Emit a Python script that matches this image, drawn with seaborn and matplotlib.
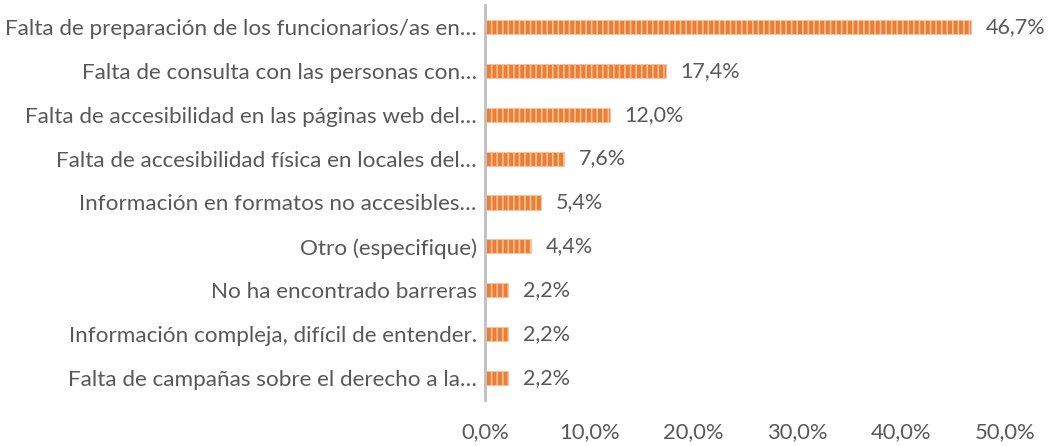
import pandas as pd
import seaborn as sns
import matplotlib.pyplot as plt
from matplotlib.ticker import FuncFormatter

# Data
categories = [
    "Falta de preparación de los funcionarios/as en…",
    "Falta de consulta con las personas con…",
    "Falta de accesibilidad en las páginas web del…",
    "Falta de accesibilidad física en locales del…",
    "Información en formatos no accesibles…",
    "Otro (especifique)",
    "No ha encontrado barreras",
    "Información compleja, difícil de entender.",
    "Falta de campañas sobre el derecho a la…",
]
values = [46.7, 17.4, 12.0, 7.6, 5.4, 4.4, 2.2, 2.2, 2.2]
xticks = [0, 10, 20, 30, 40, 50]

df = pd.DataFrame({"categoria": categories, "valor": values})

sns.set_style("white")
plt.rcParams["font.family"] = ["Lato", "DejaVu Sans"]
plt.rcParams["hatch.linewidth"] = 1.2

text_color = "#595959"
bar_color = "#ED7D31"

fig = plt.figure(figsize=(10.57, 4.46), dpi=100)
ax = fig.add_axes([0.459, 0.103, 0.492, 0.886])

sns.barplot(data=df, x="valor", y="categoria", orient="h",
            color=bar_color, width=0.32, saturation=1, ax=ax)

# Vertical stripes on the bars
for patch in ax.patches:
    patch.set_hatch("|||")
    patch.set_edgecolor("#F8C3A0")
    patch.set_linewidth(0.6)

# Value labels
for i, v in enumerate(values):
    ax.text(v + 1.4, i, f"{v:.1f}%".replace(".", ","), va="center", ha="left",
            fontsize=15.5, color=text_color)

ax.set_xlim(0, 50)
ax.set_xticks(xticks)
ax.xaxis.set_major_formatter(FuncFormatter(lambda x, _: f"{x:.1f}%".replace(".", ",")))
ax.set_xlabel("")
ax.set_ylabel("")
ax.tick_params(axis="both", length=0, labelcolor=text_color)
ax.tick_params(axis="x", labelsize=15.8, pad=16)
ax.tick_params(axis="y", labelsize=16.2, pad=6)

for side in ["top", "right", "bottom"]:
    ax.spines[side].set_visible(False)
ax.spines["left"].set_color("#BFBFBF")
ax.spines["left"].set_linewidth(2)

fig.savefig("out.png", dpi=100)
